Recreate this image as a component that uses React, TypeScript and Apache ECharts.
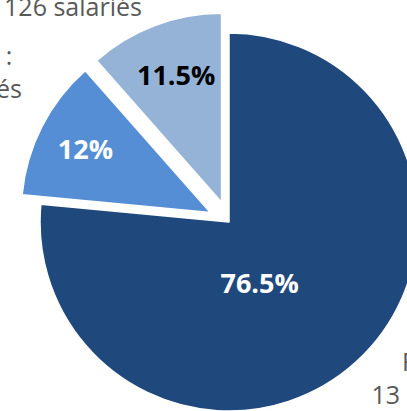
import React, { useEffect, useRef } from "react";
import * as echarts from "echarts";

// ---- data ----
const categories = ["Femmes", "Hommes", "Non renseigné"];
const shares = [76.5, 12, 11.5];
const shareLabels = ["76.5%", "12%", "11.5%"];
const headcounts = ["13 520 salariés", "132 salariés", "126 salariés"];
const exploded = [false, true, true];

// ---- styles / layout ----
const sliceColors = ["#1F497D", "#558ED5", "#95B3D7"];
const shareLabelColors = ["#FFFFFF", "#FFFFFF", "#000000"];
const shareLabelShift = [
  [-35, -12],
  [-38, -20],
  [-11, -37],
];
const outerLabelPos = [
  [458, 377],
  [-47, 71],
  [73, -11],
];
const CENTER = [229, 222];
const RADIUS = 189;
const FONT = "'Open Sans', 'Noto Sans', sans-serif";

export default function App() {
  const ref = useRef<HTMLDivElement>(null);

  useEffect(() => {
    if (!ref.current) return;
    const chart = echarts.init(ref.current, null, { renderer: "svg" });

    const pieData = categories.map((name, i) => ({
      name,
      value: shares[i],
      selected: exploded[i],
      itemStyle: { color: sliceColors[i] },
      label: {
        formatter: shareLabels[i],
        color: shareLabelColors[i],
      },
    }));

    const outerData = categories.map((name, i) => ({
      name,
      value: shares[i],
      label: { formatter: `${name} :\n${headcounts[i]}` },
    }));

    chart.setOption({
      animation: false,
      backgroundColor: "#FFFFFF",
      series: [
        {
          type: "pie",
          center: CENTER,
          radius: RADIUS,
          startAngle: 90,
          clockwise: true,
          selectedMode: "multiple",
          selectedOffset: 21,
          avoidLabelOverlap: false,
          itemStyle: { borderColor: "#FFFFFF", borderWidth: 1.5 },
          label: {
            show: true,
            position: "inside",
            fontFamily: FONT,
            fontWeight: "bold",
            fontSize: 27,
          },
          labelLine: { show: false },
          labelLayout: (params: any) => {
            const s = shareLabelShift[params.dataIndex];
            return { dx: s[0], dy: s[1] };
          },
          emphasis: { disabled: true },
          data: pieData,
        },
        {
          type: "pie",
          silent: true,
          center: CENTER,
          radius: RADIUS,
          startAngle: 90,
          clockwise: true,
          avoidLabelOverlap: false,
          itemStyle: { color: "transparent", borderWidth: 0 },
          label: {
            show: true,
            position: "inside",
            fontFamily: FONT,
            fontSize: 25,
            lineHeight: 33,
            color: "#595959",
            align: "center",
          },
          labelLine: { show: false },
          labelLayout: (params: any) => {
            const p = outerLabelPos[params.dataIndex];
            return { x: p[0], y: p[1], align: "center", verticalAlign: "middle" };
          },
          emphasis: { disabled: true },
          data: outerData,
        },
      ],
    });

    return () => chart.dispose();
  }, []);

  return (
    <div
      ref={ref}
      style={{ position: "fixed", left: 0, top: 0, width: 407, height: 411 }}
    />
  );
}
